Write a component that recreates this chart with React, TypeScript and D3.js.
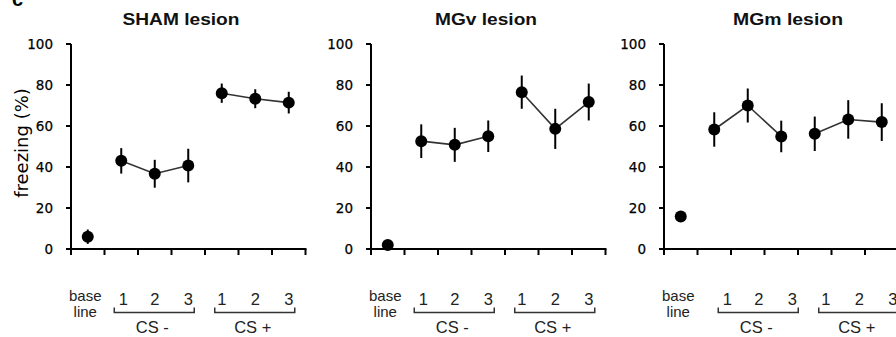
import React from "react";
import * as d3 from "d3";

const categories = ["baseline", "CS- 1", "CS- 2", "CS- 3", "CS+ 1", "CS+ 2", "CS+ 3"];
const panelTitles = ["SHAM lesion", "MGv lesion", "MGm lesion"];
const shamMean = [6, 43, 36.7, 40.7, 76, 73.3, 71.4];
const shamErr = [3.5, 6.2, 6.8, 8.2, 4.7, 4.6, 5.3];
const mgvMean = [2, 52.6, 50.8, 55, 76.5, 58.6, 71.7];
const mgvErr = [1.5, 8.2, 8.3, 7.7, 8.1, 9.8, 9];
const mgmMean = [15.9, 58.3, 70, 54.9, 56.2, 63.2, 61.9];
const mgmErr = [1.5, 8.4, 8.3, 7.7, 8.4, 9.4, 9.2];
const yTicks = [0, 20, 40, 60, 80, 100];
const trialLabels = ["1", "2", "3"];
const groupLabels = ["CS -", "CS +"];
const yLabel = "freezing (%)";
const panelLetter = "c";

const means = [shamMean, mgvMean, mgmMean];
const errs = [shamErr, mgvErr, mgmErr];

const W = 896;
const H = 337;
const axisXs = [71, 371, 664];
const titleXs = [181, 486, 788];
const titleWidths = [117, 102, 110];
const labelShift = [0, 0, 11];
const slotsWidth = 234.5;
const FONT = "'DejaVu Sans', sans-serif";
const ARIAL = "'Liberation Sans', Arial, sans-serif";

const y = d3.scaleLinear().domain([0, 100]).range([249, 44]);

function Panel({ idx }: { idx: number }) {
  const ax = axisXs[idx];
  const x = d3.scaleBand<string>().domain(categories).range([ax, ax + slotsWidth]).padding(0);
  const cx = (c: string) => (x(c) as number) + x.bandwidth() / 2;
  const m = means[idx];
  const e = errs[idx];
  const pts = categories.map((c, i) => ({ c, i, v: m[i], err: e[i] }));
  const line = d3
    .line<{ c: string; v: number }>()
    .x((d) => cx(d.c))
    .y((d) => y(d.v));
  const csMinus = pts.slice(1, 4);
  const csPlus = pts.slice(4, 7);
  const boundaries = d3.range(categories.length + 1).map((k) => ax + k * x.bandwidth());
  const shift = labelShift[idx];
  const groups = [csMinus, csPlus];
  const bracketY = 312.5;
  return (
    <g>
      <text
        x={titleXs[idx]}
        y={25}
        textAnchor="middle"
        fontFamily={ARIAL}
        fontWeight="bold"
        fontSize={17}
        fill="#111"
        textLength={titleWidths[idx]}
        lengthAdjust="spacingAndGlyphs"
      >
        {panelTitles[idx]}
      </text>
      {/* y axis */}
      <line x1={ax} x2={ax} y1={y(100)} y2={y(0)} stroke="#000" strokeWidth={2} />
      {yTicks.map((t) => (
        <g key={t}>
          <line x1={ax - 5} x2={ax} y1={y(t)} y2={y(t)} stroke="#000" strokeWidth={2} />
          <text
            x={ax - 18}
            y={y(t)}
            dy="0.35em"
            textAnchor="end"
            fontFamily={FONT}
            fontSize={13.5}
            fill="#000"
            stroke="#000"
            strokeWidth={0.25}
          >
            {t}
          </text>
        </g>
      ))}
      {/* x axis */}
      <line x1={ax - 1} x2={ax + slotsWidth + 1} y1={y(0)} y2={y(0)} stroke="#000" strokeWidth={2} />
      {boundaries.map((b, k) => (
        <line key={k} x1={b} x2={b} y1={y(0)} y2={y(0) + 6} stroke="#000" strokeWidth={2} />
      ))}
      {/* connecting lines */}
      <path d={line(csMinus) as string} fill="none" stroke="#333" strokeWidth={1.6} />
      <path d={line(csPlus) as string} fill="none" stroke="#333" strokeWidth={1.6} />
      {/* error bars and points */}
      {pts.map((p) => (
        <g key={p.c}>
          <line
            x1={cx(p.c)}
            x2={cx(p.c)}
            y1={y(p.v + p.err)}
            y2={y(p.v - p.err)}
            stroke="#000"
            strokeWidth={2}
          />
          <circle cx={cx(p.c)} cy={y(p.v)} r={6} fill="#000" />
        </g>
      ))}
      {/* bottom labels */}
      <text
        x={cx(categories[0]) - 2.5}
        y={301}
        textAnchor="middle"
        fontFamily={ARIAL}
        fontSize={15}
        fill="#222"
      >
        base
      </text>
      <text
        x={cx(categories[0]) - 2.5}
        y={317}
        textAnchor="middle"
        fontFamily={ARIAL}
        fontSize={15}
        fill="#222"
      >
        line
      </text>
      {groups.map((g, gi) => {
        const x0 = cx(g[0].c) - 7 + shift;
        const x1 = cx(g[2].c) + 6 + shift;
        const mid = (x0 + x1) / 2;
        return (
          <g key={gi}>
            {g.map((p, k) => (
              <text
                key={k}
                x={cx(p.c) + shift + (gi === 0 && k === 0 ? 2 : 0)}
                y={305}
                textAnchor="middle"
                fontFamily={ARIAL}
                fontSize={16.5}
                fill="#222"
              >
                {trialLabels[k]}
              </text>
            ))}
            <path
              d={`M${x0},${bracketY - 5}V${bracketY}H${x1}V${bracketY - 5}`}
              fill="none"
              stroke="#333"
              strokeWidth={1.5}
            />
            <text
              x={mid - 2}
              y={333}
              textAnchor="middle"
              fontFamily={ARIAL}
              fontSize={16.5}
              fill="#222"
            >
              {groupLabels[gi]}
            </text>
          </g>
        );
      })}
    </g>
  );
}

export default function App() {
  return (
    <svg
      width={W}
      height={H}
      viewBox={`0 0 ${W} ${H}`}
      style={{ position: "absolute", left: 0, top: 0, background: "#fff" }}
    >
      <rect x={0} y={0} width={W} height={H} fill="#fff" />
      <text x={12} y={6} fontFamily={ARIAL} fontWeight="bold" fontSize={20} fill="#000">
        {panelLetter}
      </text>
      <text
        transform={`translate(28,143) rotate(-90)`}
        textAnchor="middle"
        fontFamily={FONT}
        fontSize={18}
        fill="#000"
      >
        {yLabel}
      </text>
      {panelTitles.map((_, i) => (
        <Panel key={i} idx={i} />
      ))}
    </svg>
  );
}
